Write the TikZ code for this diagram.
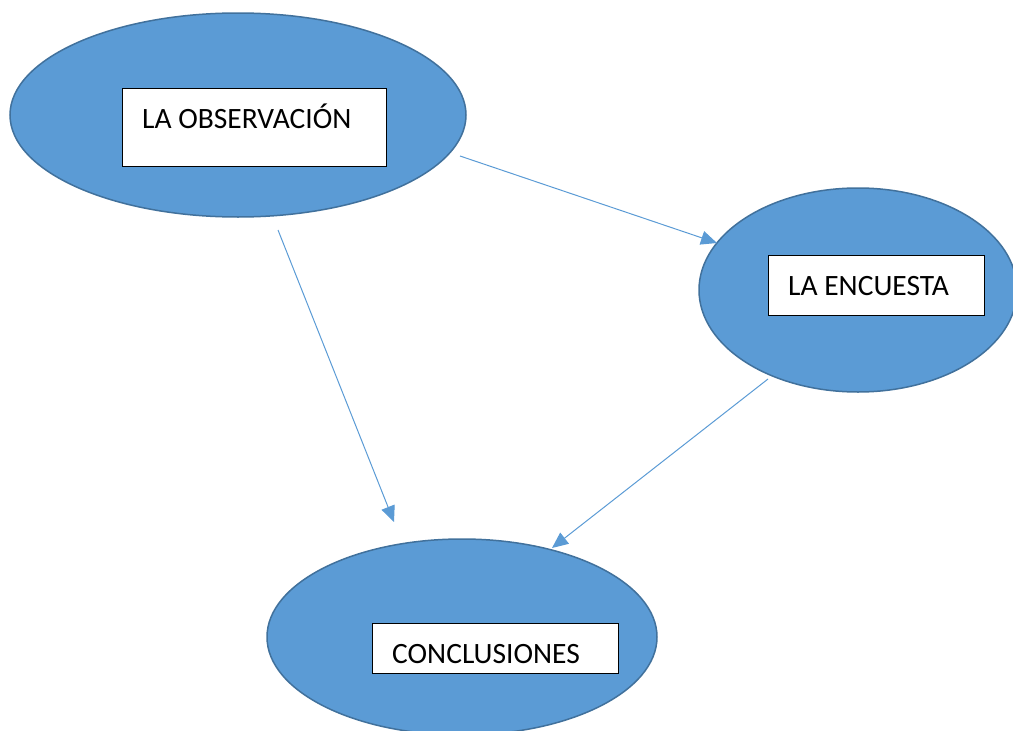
\documentclass[tikz,border=0pt]{standalone}
\usepackage{fontspec}
\setmainfont{Carlito}
\usetikzlibrary{shapes.geometric,arrows.meta}
\definecolor{bluefill}{HTML}{5B9BD5}
\definecolor{blueedge}{HTML}{41719C}
\begin{document}
\begin{tikzpicture}[x=1pt,y=-1pt,
  oval/.style={ellipse,fill=bluefill,draw=blueedge,line width=1.5pt,inner sep=0pt},
  lbox/.style={rectangle,fill=white,draw=black,line width=1pt,inner sep=0pt,anchor=north west},
  ltext/.style={anchor=base west,inner sep=0pt,font=\fontsize{29.5}{34}\selectfont},
  conn/.style={draw=bluefill,line width=1pt,-{Triangle[length=16pt,width=14pt]}}]
\useasboundingbox (0,0) rectangle (1013,731);
\node[oval,minimum width=456pt,minimum height=204pt] (obs) at (238,115) {};
\node[oval,minimum width=318pt,minimum height=204pt] (enc) at (858,290) {};
\node[oval,minimum width=390pt,minimum height=196pt] (con) at (462,637) {};
\node[lbox,minimum width=264pt,minimum height=78pt] (obsbox) at (122,88) {};
\node[lbox,minimum width=216pt,minimum height=60pt] (encbox) at (768,255) {};
\node[lbox,minimum width=246pt,minimum height=50pt] (conbox) at (372,623) {};
\node[ltext] (obst) at (142,128) {LA OBSERVACIÓN};
\node[ltext] (enct) at (788,295) {LA ENCUESTA};
\node[ltext] (cont) at (392,663) {CONCLUSIONES};
\coordinate (a1s) at (460,156);
\coordinate (a1e) at (717,243);
\coordinate (a2s) at (278,230);
\coordinate (a2e) at (394,522);
\coordinate (a3s) at (768,379);
\coordinate (a3e) at (552,548);
\draw[conn] (a1s) -- (a1e);
\draw[conn] (a2s) -- (a2e);
\draw[conn] (a3s) -- (a3e);
\end{tikzpicture}
\end{document}
